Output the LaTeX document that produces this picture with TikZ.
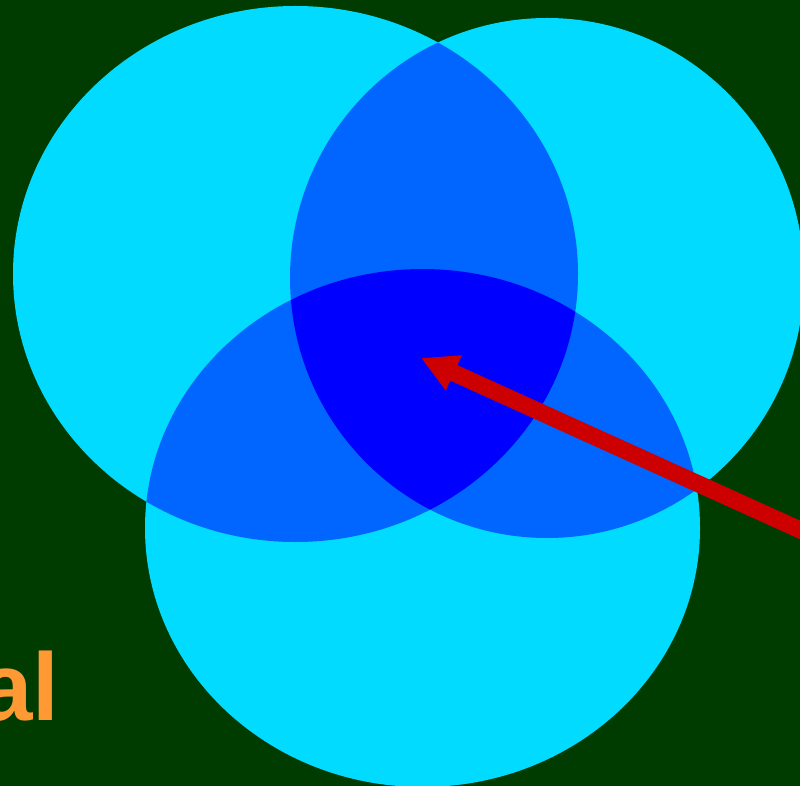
\documentclass[tikz,border=0pt]{standalone}
\usepackage{fontspec}
\setmainfont{Liberation Sans}
\usetikzlibrary{arrows.meta}
\definecolor{bg}{HTML}{003C00}
\definecolor{cyanc}{HTML}{00DBFF}
\definecolor{midblue}{HTML}{0066FF}
\definecolor{deepblue}{HTML}{0000FF}
\definecolor{redc}{HTML}{CC0000}
\definecolor{orangec}{HTML}{FF9933}
\begin{document}
\begin{tikzpicture}[x=1pt,y=-1pt,
  arrowline/.style={draw=redc,line width=17pt,-{Triangle[length=36pt,width=36pt]}},
  labeltext/.style={text=orangec,font=\bfseries\fontsize{96}{96}\selectfont,inner sep=0pt,anchor=base east}]
\useasboundingbox (0,0) rectangle (800,786);
\fill[bg] (0,0) rectangle (800,786);
\def\cL{(295.5,274) ellipse [x radius=282.5pt, y radius=268pt]}
\def\cR{(547,278) ellipse [x radius=257pt, y radius=260pt]}
\def\cB{(422.5,528) ellipse [x radius=277.5pt, y radius=259pt]}
\begin{scope}
\clip (0,0) rectangle (800,786);
\fill[cyanc] \cL;
\fill[cyanc] \cR;
\fill[cyanc] \cB;
\begin{scope}\clip \cL; \fill[midblue] \cR; \fill[midblue] \cB; \end{scope}
\begin{scope}\clip \cR; \fill[midblue] \cB; \end{scope}
\begin{scope}\clip \cL; \clip \cR; \fill[deepblue] \cB; \end{scope}
\end{scope}
\coordinate (tail) at (820,539);
\coordinate (tip) at (421,358);
\begin{scope}
\clip (0,0) rectangle (800,786);
\draw[arrowline] (tail) -- (tip);
\end{scope}
\node[labeltext] (lbl) at (59.5,720) {al};
\end{tikzpicture}
\end{document}
